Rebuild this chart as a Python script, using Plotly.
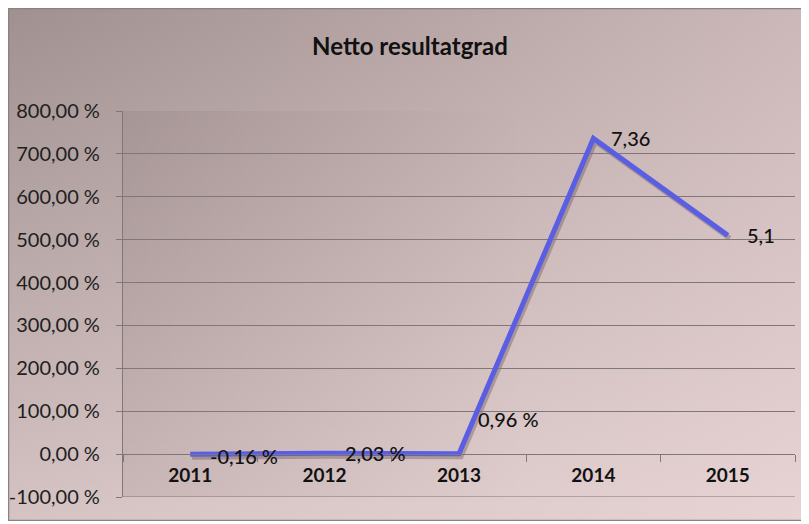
import plotly.graph_objects as go

# ---- data ----
years = ["2011", "2012", "2013", "2014", "2015"]
values = [-0.0016, 0.0203, 0.0096, 7.36, 5.1]          # fractions (axis shown in %)
value_labels = ["-0,16 %", "2,03 %", "0,96 %", "7,36", "5,1"]
y_ticks = [-1, 0, 1, 2, 3, 4, 5, 6, 7, 8]
y_tick_labels = ["-100,00 %", "0,00 %", "100,00 %", "200,00 %", "300,00 %",
                 "400,00 %", "500,00 %", "600,00 %", "700,00 %", "800,00 %"]
title_text = "Netto resultatgrad"

# ---- layout geometry (figure pixels; page adds an 8px body margin) ----
W, H = 800, 513
PLOT = (115, 103, 787, 489)       # plot area   x0, y0, x1, y1
Y_MIN, Y_MAX = y_ticks[0], y_ticks[-1]
FONT = "Lato"

def xdom(x0, x1):
    return [x0 / W, x1 / W]

def ydom(top, bottom):
    return [(H - bottom) / H, (H - top) / H]

main_xd = xdom(PLOT[0], PLOT[2])
main_yd = ydom(PLOT[1], PLOT[3])
sh_dx, sh_dy = 2, 3
shadow_xd = xdom(PLOT[0] + sh_dx, PLOT[2] + sh_dx)
shadow_yd = ydom(PLOT[1] + sh_dy, PLOT[3] + sh_dy)
zero_pos = main_yd[0] + (0 - Y_MIN) / (Y_MAX - Y_MIN) * (main_yd[1] - main_yd[0])

fig = go.Figure()

# ---- background gradient layers (pixel space on axes x/y) ----
bx = [0, W, W, 0, 0]
by = [0, 0, H, H, 0]
fig.add_trace(go.Scatter(
    x=bx, y=by, mode="lines", fill="toself", line=dict(width=0),
    fillgradient=dict(type="horizontal",
                      colorscale=[[0, "rgb(160,144,144)"], [1, "rgb(204,184,185)"]]),
    hoverinfo="skip", showlegend=False, xaxis="x", yaxis="y"))
fig.add_trace(go.Scatter(
    x=bx, y=by, mode="lines", fill="toself", line=dict(width=0),
    fillgradient=dict(type="vertical",
                      colorscale=[[0, "rgba(250,230,230,0.6)"], [1, "rgba(250,230,230,0)"]]),
    hoverinfo="skip", showlegend=False, xaxis="x", yaxis="y"))
px_ = [PLOT[0], PLOT[2], PLOT[2], PLOT[0], PLOT[0]]
py_ = [PLOT[1], PLOT[1], PLOT[3], PLOT[3], PLOT[1]]
fig.add_trace(go.Scatter(
    x=px_, y=py_, mode="lines", fill="toself", line=dict(width=0),
    fillgradient=dict(type="horizontal",
                      colorscale=[[0, "rgba(70,50,50,0.09)"], [0.6, "rgba(70,50,50,0)"],
                                  [1, "rgba(70,50,50,0)"]]),
    hoverinfo="skip", showlegend=False, xaxis="x", yaxis="y"))

# ---- line shadow ----
fig.add_trace(go.Scatter(
    x=years, y=values, mode="lines",
    line=dict(color="rgba(60,40,40,0.28)", width=5),
    hoverinfo="skip", showlegend=False, xaxis="x2", yaxis="y2"))

# ---- main line ----
fig.add_trace(go.Scatter(
    x=years, y=values, mode="lines",
    line=dict(color="#5a5ee2", width=5),
    showlegend=False, xaxis="x3", yaxis="y3"))

# ---- data labels ----
label_dx = [18, 18, 17, 16, 17]
label_dy = [-2, 0, 35, 0, 0]
annotations = []
for i, (v, t, dx, dy) in enumerate(zip(values, value_labels, label_dx, label_dy)):
    annotations.append(dict(
        x=i, y=v, xref="x3", yref="y3", text=t, showarrow=False,
        xanchor="left", yanchor="middle", xshift=dx, yshift=dy,
        font=dict(family=FONT, size=20, color="#111111", weight=500)))

grid_col = "#807878"
fig.update_layout(
    width=W, height=H,
    margin=dict(l=0, r=0, t=0, b=0, autoexpand=False),
    paper_bgcolor="#c8b4b4", plot_bgcolor="rgba(0,0,0,0)",
    title=dict(text=title_text, x=402 / W, y=1 - 39 / H, xanchor="center", yanchor="middle",
               font=dict(family=FONT, size=24, color="#111111", weight="bold")),
    xaxis=dict(domain=[0, 1], range=[0, W], visible=False, fixedrange=True),
    yaxis=dict(domain=[0, 1], range=[H, 0], visible=False, fixedrange=True),
    xaxis2=dict(domain=shadow_xd, range=[-0.5, len(years) - 0.5], type="category",
                categoryorder="array", categoryarray=years, visible=False, anchor="y2"),
    yaxis2=dict(domain=shadow_yd, range=[Y_MIN, Y_MAX], visible=False, anchor="x2"),
    xaxis3=dict(domain=main_xd, range=[-0.5, len(years) - 0.5], type="category",
                categoryorder="array", categoryarray=years,
                anchor="free", position=zero_pos,
                tickson="boundaries", ticks="outside", ticklen=7, tickwidth=1,
                tickcolor=grid_col, showline=True, linecolor=grid_col, linewidth=1.2,
                showgrid=False, zeroline=False, ticklabelstandoff=4,
                tickfont=dict(family=FONT, size=19, color="#111111", weight="bold")),
    yaxis3=dict(domain=main_yd, range=[Y_MIN, Y_MAX], anchor="x3",
                tickmode="array", tickvals=y_ticks, ticktext=y_tick_labels,
                ticks="outside", ticklen=6, tickcolor=grid_col, tickwidth=1,
                showline=True, linecolor=grid_col, linewidth=1.2,
                showgrid=True, gridcolor=grid_col, gridwidth=1.2, zeroline=False,
                ticklabelstandoff=12,
                tickfont=dict(family=FONT, size=20, color="#1e1e1e")),
    annotations=annotations,
    shapes=[
        # bottom gridline at the lowest tick (Plotly drops the one on the edge)
        dict(type="line", xref="x3 domain", yref="y3", x0=0, x1=1,
             y0=Y_MIN, y1=Y_MIN, layer="above", line=dict(color=grid_col, width=1.2)),
        dict(type="rect", xref="paper", yref="paper", layer="above",
             x0=0.5 / W, x1=1 - 0.5 / W, y0=0.5 / H, y1=1 - 0.5 / H,
             line=dict(color="#8a8282", width=1.5)),
    ],
)

fig.write_html("out.html")
